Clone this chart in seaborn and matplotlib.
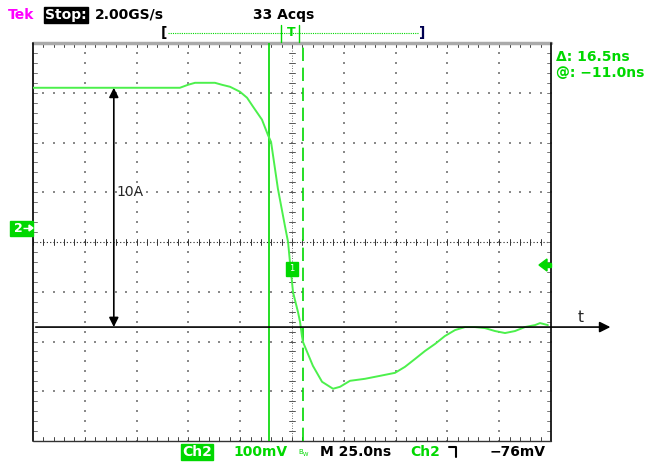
import numpy as np
import pandas as pd
import seaborn as sns
import matplotlib
matplotlib.use("Agg")
import matplotlib.pyplot as plt
from matplotlib.patches import Rectangle, Polygon
from matplotlib.lines import Line2D

# ---- data (time in ns, channel 2 in mV relative to screen centre) ----
time_ns = [-125.0, -112.0, -92.7, -73.4, -54.1, -50.2, -46.8, -42.0, -37.2, -33.8,
           -29.9, -25.1, -21.7, -18.8, -14.5, -11.6, -10.1, -6.8,
           -3.4, -1.9, -1.0, 0.5, 2.9, 3.9, 4.8, 5.3, 10.1,
           14.5, 19.8, 23.2, 28.0, 35.2, 42.5, 49.7, 54.5, 59.4,
           64.2, 69.0, 73.8, 78.7, 83.5, 88.3, 93.1, 98.0, 102.8, 107.6,
           112.4, 117.3, 119.7, 123.5]
ch2_mv = [310, 310, 310, 310, 310, 316, 320, 320, 320, 316,
          312, 302, 290, 272, 246, 215, 201, 107,
          32, 0, -40, -101, -141, -161, -189, -201, -249,
          -281, -295, -291, -279, -275, -269, -263, -251, -235,
          -219, -205, -189, -177, -171, -171, -173, -179, -183, -179,
          -171, -167, -163, -167]
cursor_ns = [-11.0, 5.5]
cursor_labels = ["\u0394: 16.5ns", "@: \u221211.0ns"]
header = ["Tek", "Stop:", "2.00GS/s", "33 Acqs"]
footer = ["Ch2", "100mV", "M 25.0ns", "Ch2", "\u221276mV"]
amp_label = "10A"
amp_span_mv = [310, -171]

sns.set_style("white")
plt.rcParams['font.family'] = ['DejaVu Sans']

W, H = 650, 463
fig = plt.figure(figsize=(6.5, 4.63), dpi=100)
fig.patch.set_facecolor("white")
ax = fig.add_axes([33 / W, 22 / H, 518 / W, 398 / H])
ax.set_xlim(-125, 125)
ax.set_ylim(-400, 400)
ax.set_xticks([]); ax.set_yticks([])
for s in ax.spines.values():
    s.set_visible(False)

def fp(px, py):
    return (px / W, 1 - py / H)

GREEN = "#00d800"
WAVE = "#4cf04c"
DOT = "#8a8a8a"

# ---- graticule ----
maj_x = np.arange(-100, 101, 25)
maj_y = np.arange(-300, 301, 100)
min_x = np.arange(-125, 126, 5)
min_y = np.arange(-400, 401, 20)
for xm in maj_x:
    if xm == 0:
        continue
    ax.scatter(np.full(len(min_y), xm), min_y, s=0.9, color=DOT, marker='s', lw=0, zorder=1)
for ym in maj_y:
    if ym == 0:
        continue
    ax.scatter(min_x, np.full(len(min_x), ym), s=0.9, color=DOT, marker='s', lw=0, zorder=1)
# centre cross
ax.plot([-125, 125], [0, 0], color="#222222", lw=0.8, ls=(0, (1, 2)), zorder=1)
ax.plot([0, 0], [-400, 400], color="#444444", lw=0.6, ls=(0, (1, 2)), zorder=1)
for xm in min_x:
    ax.plot([xm, xm], [-6, 6], color="#333333", lw=0.7, zorder=1)
for ym in min_y:
    ax.plot([-1.5, 1.5], [ym, ym], color="#555555", lw=0.7, zorder=1)
# border ticks
for xm in min_x[1:-1]:
    ax.plot([xm, xm], [400, 392], color="#444444", lw=0.7, zorder=1)
    ax.plot([xm, xm], [-400, -392], color="#444444", lw=0.7, zorder=1)
for ym in min_y[1:-1]:
    ax.plot([-125, -123], [ym, ym], color="#777777", lw=0.7, zorder=1)
    ax.plot([125, 123], [ym, ym], color="#777777", lw=0.7, zorder=1)
# borders
ax.plot([-125, 125], [400, 400], color="#aaaaaa", lw=2.5, zorder=2, clip_on=False)
ax.plot([-125, -125], [-400, 400], color="#111111", lw=1.3, zorder=2, clip_on=False)
ax.plot([125, 125], [-400, 400], color="#111111", lw=1.3, zorder=2, clip_on=False)
ax.plot([-125, 125], [-400, -400], color="#333333", lw=1.0, zorder=2, clip_on=False)

# ---- cursors ----
ax.axvline(cursor_ns[0], color=GREEN, lw=1.2, zorder=3)
ax.axvline(cursor_ns[1], color=GREEN, lw=1.2, ls=(0, (8, 4)), zorder=3)

# ---- waveform ----
df = pd.DataFrame({"t": time_ns, "v": ch2_mv})
sns.lineplot(data=df, x="t", y="v", ax=ax, color=WAVE, lw=1.4, estimator=None, sort=False, zorder=4)
ax.set_xlabel(""); ax.set_ylabel("")

# ---- black annotations ----
ax.annotate("", xy=(155, amp_span_mv[1]), xytext=(-125, amp_span_mv[1]),
            arrowprops=dict(arrowstyle='-|>', color='black', lw=1.2, mutation_scale=16),
            annotation_clip=False, zorder=5)
ax.annotate("", xy=(-86, amp_span_mv[0]), xytext=(-86, amp_span_mv[1]),
            arrowprops=dict(arrowstyle='<|-|>', color='black', lw=1.2, mutation_scale=14, shrinkA=0, shrinkB=0),
            annotation_clip=False, zorder=5)
ax.text(139.5, -152, "t", fontsize=11, ha="center", va="center", clip_on=False)
ax.text(-84.5, 100, amp_label, fontsize=10, ha="left", va="center")

# ---- marker 1 on trace ----
ax.add_patch(Rectangle((-2.9, -40), 5.8, -28, color=GREEN, zorder=6))
ax.text(0, -54, "1", color="white", fontsize=6, ha="center", va="center", zorder=7)

# ---- header ----
tf = fig.transFigure
fig.text(*fp(8, 15), header[0], color="#ff00ff", fontsize=10, fontweight="bold", va="center")
fig.text(*fp(45, 15), header[1], color="white", fontsize=10, fontweight="bold", va="center",
         bbox=dict(boxstyle="square,pad=0.1", fc="black", ec="black"))
fig.text(*fp(95, 15), header[2], color="black", fontsize=10, fontweight="bold", va="center")
fig.text(*fp(253, 15), header[3], color="black", fontsize=10, fontweight="bold", va="center")
# record bracket
fig.text(*fp(161, 33), "[", color="black", fontsize=10, fontweight="bold", va="center")
fig.text(*fp(419, 33), "]", color="#000050", fontsize=10, fontweight="bold", va="center")
fig.add_artist(Line2D([168 / W, 419 / W], [1 - 33 / H] * 2, color=GREEN, lw=0.8, ls=(0, (1, 1)), transform=tf))
for px in (281, 299):
    fig.add_artist(Line2D([px / W] * 2, [1 - 25 / H, 1 - 42 / H], color=GREEN, lw=1, transform=tf))
fig.text(*fp(291, 33), "T", color=GREEN, fontsize=9, fontweight="bold", ha="center", va="center")

# ---- cursor readouts ----
fig.text(*fp(556, 57), cursor_labels[0], color=GREEN, fontsize=10, fontweight="bold", va="center")
fig.text(*fp(556, 73), cursor_labels[1], color=GREEN, fontsize=10, fontweight="bold", va="center")

# ---- channel marker and trigger level ----
fig.add_artist(Rectangle(fp(10, 236), 23 / W, 15 / H, color=GREEN, transform=tf))
fig.text(*fp(14, 228), "2", color="white", fontsize=9, fontweight="bold", va="center")
fig.add_artist(Polygon([fp(23, 228), fp(31, 228)], closed=False, color="white", lw=1, transform=tf))
fig.add_artist(Polygon([fp(29, 225), fp(33, 228), fp(29, 231)], closed=True, color="white", transform=tf))
fig.add_artist(Polygon([fp(539, 265), fp(547, 259), fp(547, 271)], closed=True, color=GREEN, transform=tf))
fig.add_artist(Rectangle(fp(546, 267), 5 / W, 4 / H, color=GREEN, transform=tf))

# ---- footer ----
fig.text(*fp(182, 452), footer[0], color="white", fontsize=10, fontweight="bold", va="center",
         bbox=dict(boxstyle="square,pad=0.1", fc=GREEN, ec=GREEN))
fig.text(*fp(233, 452), footer[1], color=GREEN, fontsize=10, fontweight="bold", va="center")
fig.text(*fp(298, 452), "B", color=GREEN, fontsize=5, va="center")
fig.text(*fp(303, 455), "W", color=GREEN, fontsize=4, va="center")
fig.text(*fp(320, 452), footer[2], color="black", fontsize=10, fontweight="bold", va="center")
fig.text(*fp(410, 452), footer[3], color=GREEN, fontsize=10, fontweight="bold", va="center")
fig.add_artist(Line2D([449 / W, 456 / W, 456 / W], [1 - 447 / H, 1 - 447 / H, 1 - 457 / H],
                      color="black", lw=1.5, transform=tf))
fig.text(*fp(490, 452), footer[4], color="black", fontsize=10, fontweight="bold", va="center")

fig.savefig("out.png", dpi=100, facecolor="white")
